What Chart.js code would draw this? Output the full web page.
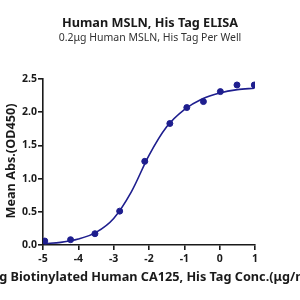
<!DOCTYPE html>
<html><head><meta charset="utf-8">
<script src="https://cdn.jsdelivr.net/npm/chart.js@4"></script>
<style>html,body{margin:0;padding:0;background:#fff}</style>
</head><body><canvas id="c" width="300" height="300"></canvas>
<script>
const titleText = "Human MSLN, His Tag ELISA";
const subtitleText = "0.2\u03bcg Human MSLN, His Tag Per Well";
const xTitle = "Log Biotinylated Human CA125, His Tag Conc.(\u03bcg/ml)";
const yTitle = "Mean Abs.(OD450)";
const logConc = [-4.95, -4.22, -3.53, -2.83, -2.12, -1.41, -0.93, -0.46, 0.02, 0.49, 0.98];
const meanAbs = [0.06, 0.08, 0.17, 0.51, 1.26, 1.83, 2.07, 2.16, 2.31, 2.41, 2.41];
const fitX = [-4.95, -4.5, -4.0, -3.5, -3.0, -2.5, -2.0, -1.5, -1.0, -0.5, 0.0, 0.5, 0.98];
const fitY = [0.02, 0.04, 0.09, 0.19, 0.40, 0.80, 1.35, 1.78, 2.04, 2.20, 2.29, 2.34, 2.36];
const xTicks = [-5, -4, -3, -2, -1, 0, 1];
const yTicks = [0, 0.5, 1.0, 1.5, 2.0, 2.5];
const navy = '#1e1e8e';
const ink = '#1a1a1a';
const F = "'Noto Sans', sans-serif";

const textPlugin = {
  id: 'texts',
  afterDraw(chart) {
    const ctx = chart.ctx, a = chart.chartArea;
    ctx.save();
    ctx.fillStyle = ink;
    ctx.textAlign = 'center';
    ctx.textBaseline = 'alphabetic';
    ctx.font = "bold 12.7px " + F;
    ctx.fillText(titleText, 150, 26.5);
    ctx.fillStyle = '#333';
    ctx.font = "10.5px " + F;
    ctx.fillText(subtitleText, 150, 40.7);
    ctx.fillStyle = ink;
    ctx.font = "bold 12.7px " + F;
    ctx.fillText(xTitle, (a.left + a.right) / 2 + 1, 281);
    ctx.translate(15, (a.top + a.bottom) / 2 - 1);
    ctx.rotate(-Math.PI / 2);
    ctx.fillText(yTitle, 0, 0);
    ctx.restore();
  }
};

new Chart(document.getElementById('c'), {
  type: 'scatter',
  data: {
    datasets: [
      { type: 'line', data: fitX.map((x, i) => ({x, y: fitY[i]})), borderColor: navy, borderWidth: 1.6,
        pointRadius: 0, cubicInterpolationMode: 'monotone', fill: false },
      { data: logConc.map((x, i) => ({x, y: meanAbs[i]})), backgroundColor: navy, borderColor: navy,
        pointRadius: 3, pointHoverRadius: 3 }
    ]
  },
  options: {
    responsive: false, animation: false, devicePixelRatio: 1,
    layout: { padding: { left: 0, right: 45, top: 79, bottom: 0 } },
    plugins: { legend: { display: false }, tooltip: { enabled: false } },
    scales: {
      x: {
        type: 'linear', min: -5, max: 1,
        afterBuildTicks: s => { s.ticks = xTicks.map(v => ({value: v})); },
        afterFit: s => { s.height = 55; },
        border: { color: ink, width: 1.6 },
        grid: { display: true, drawOnChartArea: false, color: ink, lineWidth: 1.6, tickLength: 5 },
        ticks: { color: ink, font: { family: F, size: 10.5, weight: 'bold' }, padding: 3, maxRotation: 0 }
      },
      y: {
        type: 'linear', min: 0, max: 2.5,
        afterBuildTicks: s => { s.ticks = yTicks.map(v => ({value: v})); },
        afterFit: s => { s.width = 43; },
        border: { color: ink, width: 1.6 },
        grid: { display: true, drawOnChartArea: false, color: ink, lineWidth: 1.6, tickLength: 5 },
        ticks: { color: ink, font: { family: F, size: 10.5, weight: 'bold' }, padding: 1, callback: v => v.toFixed(1) }
      }
    }
  },
  plugins: [textPlugin]
});
</script></body></html>
